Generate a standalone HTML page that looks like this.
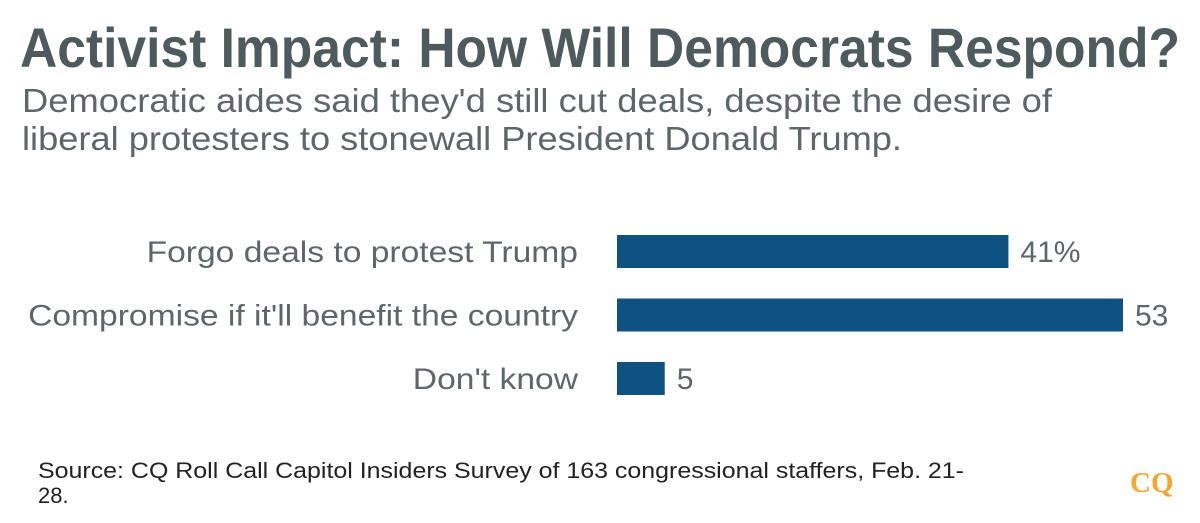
<!DOCTYPE html>
<html><head><meta charset="utf-8"><style>
html,body{margin:0;padding:0;background:#fff;}
svg{display:block;font-family:"Liberation Sans",sans-serif;}
</style></head><body>
<svg id="chart" width="1200" height="523">
<text x="20" y="67" font-size="56" font-weight="bold" fill="#4d5a5e" textLength="1160" lengthAdjust="spacingAndGlyphs">Activist Impact: How Will Democrats Respond?</text>
<text x="22" y="112" font-size="33" fill="#5f6668" textLength="1030" lengthAdjust="spacingAndGlyphs">Democratic aides said they'd still cut deals, despite the desire of</text>
<text x="22" y="150" font-size="33" fill="#5f6668" textLength="880" lengthAdjust="spacingAndGlyphs">liberal protesters to stonewall President Donald Trump.</text>
<g id="bars"></g>
<text x="38" y="478" font-size="22" fill="#222" textLength="926" lengthAdjust="spacingAndGlyphs">Source: CQ Roll Call Capitol Insiders Survey of 163 congressional staffers, Feb. 21-</text>
<text x="38" y="503" font-size="22" fill="#222">28.</text>
<text x="1130" y="492" font-size="29" font-weight="bold" fill="#f5a62e" font-family="Liberation Serif, serif">CQ</text>
</svg>
<script>
const categories = ["Forgo deals to protest Trump", "Compromise if it'll benefit the country", "Don't know"];
const values = [41, 53, 5];
const valueLabels = ["41%", "53", "5"];
const NS = "http://www.w3.org/2000/svg";
const g = document.getElementById("bars");
const x0 = 617, pxPerUnit = 506 / 53;
function xScale(v){ return x0 + v * pxPerUnit; }
function yScale(i){ return 235 + i * 63.5; }
const barH = 33;
categories.forEach((c, i) => {
  const y = yScale(i);
  const lab = document.createElementNS(NS, "text");
  lab.setAttribute("x", 578); lab.setAttribute("y", y + 27);
  lab.setAttribute("text-anchor", "end"); lab.setAttribute("font-size", "30"); lab.setAttribute("fill", "#5f6668");
  lab.textContent = c;
  
  
  g.appendChild(lab);
  const w = lab.getComputedTextLength();
  lab.setAttribute("textLength", (w * 1.12).toFixed(1));
  lab.setAttribute("lengthAdjust", "spacingAndGlyphs");
  const r = document.createElementNS(NS, "rect");
  r.setAttribute("x", x0); r.setAttribute("y", y);
  r.setAttribute("width", xScale(values[i]) - x0); r.setAttribute("height", barH);
  r.setAttribute("fill", "#0e5281");
  
  
  g.appendChild(r);
  const vl = document.createElementNS(NS, "text");
  vl.setAttribute("x", xScale(values[i]) + 12); vl.setAttribute("y", y + 27);
  vl.setAttribute("font-size", "30"); vl.setAttribute("fill", "#5f6668");
  vl.textContent = valueLabels[i];
  
  
  g.appendChild(vl);
});
</script>
</body></html>
